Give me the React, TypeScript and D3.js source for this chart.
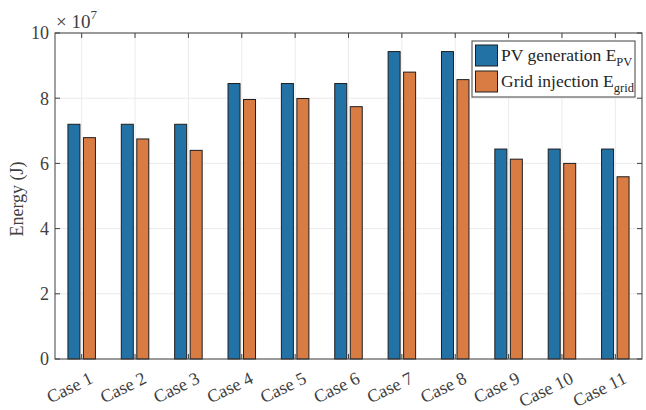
import React from "react";
import * as d3 from "d3";

const categories = ["Case 1","Case 2","Case 3","Case 4","Case 5","Case 6","Case 7","Case 8","Case 9","Case 10","Case 11"];
const pvGeneration = [7.2, 7.2, 7.2, 8.45, 8.45, 8.45, 9.43, 9.43, 6.44, 6.44, 6.44];
const gridInjection = [6.79, 6.75, 6.40, 7.96, 7.99, 7.74, 8.80, 8.57, 6.13, 6.0, 5.59];
const yTicks = [0, 2, 4, 6, 8, 10];

const W = 646, H = 410;
const M = { left: 55, right: 642, top: 33, bottom: 359 };
const FONT = "'Liberation Serif', 'Times New Roman', serif";
const BLUE = "#2372a6";
const ORANGE = "#d97c44";
const AX = "#404040";

export default function App() {
  const x = d3.scaleBand<string>().domain(categories).range([M.left, M.right]).paddingInner(0).paddingOuter(0);
  const y = d3.scaleLinear().domain([0, 10]).range([M.bottom, M.top]);
  const bw = 12;
  const gap = 3.5;
  return (
    <svg width={W} height={H} style={{ position: "absolute", left: 0, top: 0, background: "#fff" }} fontFamily={FONT}>
      {categories.map((c) => {
        const cx = x(c)! + x.bandwidth() / 2;
        return <line key={"vg" + c} x1={cx} x2={cx} y1={M.top} y2={M.bottom} stroke="#ebebeb" strokeWidth={1} />;
      })}
      {yTicks.map((t) => (
        <line key={"hg" + t} x1={M.left} x2={M.right} y1={y(t)} y2={y(t)} stroke="#ebebeb" strokeWidth={1} />
      ))}
      {categories.map((c, i) => {
        const cx = x(c)! + x.bandwidth() / 2;
        return (
          <g key={"b" + c}>
            <rect x={cx - gap / 2 - bw} y={y(pvGeneration[i])} width={bw} height={y(0) - y(pvGeneration[i])} fill={BLUE} stroke="#1e1e1e" strokeWidth={1} />
            <rect x={cx + gap / 2} y={y(gridInjection[i])} width={bw} height={y(0) - y(gridInjection[i])} fill={ORANGE} stroke="#1e1e1e" strokeWidth={1} />
          </g>
        );
      })}
      <rect x={M.left} y={M.top} width={M.right - M.left} height={M.bottom - M.top} fill="none" stroke={AX} strokeWidth={1} />
      {yTicks.map((t) => (
        <g key={"yt" + t}>
          <line x1={M.left} x2={M.left + 5} y1={y(t)} y2={y(t)} stroke={AX} />
          <line x1={M.right} x2={M.right - 5} y1={y(t)} y2={y(t)} stroke={AX} />
          <text x={M.left - 6} y={y(t)} dy="0.35em" textAnchor="end" fontSize={18} fill={AX}>{t}</text>
        </g>
      ))}
      {categories.map((c) => {
        const cx = x(c)! + x.bandwidth() / 2;
        return (
          <g key={"xt" + c}>
            <line x1={cx} x2={cx} y1={M.bottom} y2={M.bottom - 5} stroke={AX} />
            <line x1={cx} x2={cx} y1={M.top} y2={M.top + 5} stroke={AX} />
            <text transform={`translate(${cx + 7},${M.bottom + 12}) rotate(-26)`} textAnchor="end" dy="0.7em" fontSize={18} fill={AX}>{c}</text>
          </g>
        );
      })}
      <text x={M.left + 1} y={M.top - 5} fontSize={19} fill={AX}>
        × 10<tspan dy={-9} fontSize={13}>7</tspan>
      </text>
      <text transform={`translate(23,${(M.top + M.bottom) / 2 + 3}) rotate(-90)`} textAnchor="middle" fontSize={18} fill={AX}>Energy (J)</text>
      <g>
        <rect x={472} y={41} width={163} height={56} fill="#fff" stroke={AX} strokeWidth={1} />
        <rect x={475.5} y={45} width={22} height={21} fill={BLUE} stroke="#1e1e1e" />
        <rect x={475.5} y={71} width={22} height={21} fill={ORANGE} stroke="#1e1e1e" />
        <text x={501} y={61} fontSize={17.5} fill="#262626">PV generation E<tspan dy={5} fontSize={12.5}>PV</tspan></text>
        <text x={501} y={87} fontSize={17.5} fill="#262626">Grid injection E<tspan dy={5} fontSize={12.5}>grid</tspan></text>
      </g>
    </svg>
  );
}
